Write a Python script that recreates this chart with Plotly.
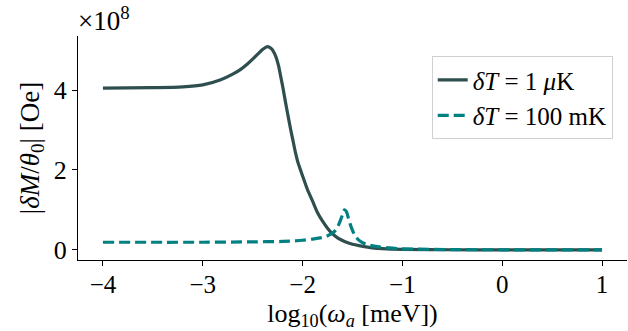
import plotly.graph_objects as go

# data (values in Oe)
x_1uK = [-4.0, -3.5, -3.2, -3.0, -2.82, -2.7, -2.62, -2.55, -2.49, -2.45, -2.4, -2.35,
         -2.31, -2.27, -2.24, -2.22, -2.2, -2.17, -2.14, -2.12, -2.1, -2.07, -2.05, -2.0,
         -1.95, -1.9, -1.85, -1.8, -1.72, -1.65, -1.58, -1.5, -1.42, -1.3, -1.2, -1.0,
         -0.5, 0.0, 0.5, 1.0]
y_1uK = [4.05, 4.06, 4.08, 4.13, 4.26, 4.4, 4.52, 4.66, 4.8, 4.9, 5.02, 5.09,
         5.03, 4.85, 4.6, 4.35, 4.1, 3.68, 3.28, 3.02, 2.78, 2.42, 2.22, 1.85,
         1.5, 1.22, 0.93, 0.72, 0.45, 0.3, 0.21, 0.14, 0.1, 0.05, 0.03, 0.012,
         0.002, 0.0005, 0.0001, 0.0]
y_1uK = [v * 1e8 for v in y_1uK]

x_100mK = [-4.0, -3.0, -2.5, -2.2, -2.0, -1.9, -1.8, -1.75, -1.7, -1.66, -1.63, -1.6,
           -1.58, -1.56, -1.54, -1.51, -1.48, -1.44, -1.4, -1.35, -1.3, -1.22, -1.1,
           -1.0, -0.5, 0.0, 1.0]
y_100mK = [0.19, 0.19, 0.2, 0.21, 0.24, 0.27, 0.31, 0.35, 0.42, 0.52, 0.68, 0.88,
           1.0, 0.95, 0.78, 0.55, 0.38, 0.25, 0.18, 0.13, 0.1, 0.07, 0.04,
           0.025, 0.005, 0.001, 0.0]
y_100mK = [v * 1e8 for v in y_100mK]

xticks = [-4, -3, -2, -1, 0, 1]
xticklabels = ["\u22124", "\u22123", "\u22122", "\u22121", "0", "1"]
yticks = [0, 2e8, 4e8]
yticklabels = ["0", "2", "4"]

FONT = "Liberation Serif"
FS = 26
C1 = "#2F4F4F"
C2 = "#008080"

fig = go.Figure()
fig.add_trace(go.Scatter(x=x_1uK, y=y_1uK, mode="lines",
                         line=dict(color=C1, width=3.2, shape="spline", smoothing=0.8),
                         name="<i>\u03b4T</i> = 1 <i>\u03bc</i>K"))
fig.add_trace(go.Scatter(x=x_100mK, y=y_100mK, mode="lines",
                         line=dict(color=C2, width=3.2, dash="11px,5px", shape="spline", smoothing=0.8),
                         name="<i>\u03b4T</i> = 100 mK"))

fig.update_layout(
    width=628, height=331,
    margin=dict(l=78, r=1, t=36, b=71),
    paper_bgcolor="white", plot_bgcolor="white",
    font=dict(family=FONT, size=FS, color="black"),
    showlegend=True,
    legend=dict(x=0.974, y=0.91, xanchor="right", yanchor="top",
                bgcolor="rgba(255,255,255,0.8)", bordercolor="#d0d0d0", borderwidth=1,
                font=dict(family=FONT, size=25), tracegroupgap=0),
    xaxis=dict(range=[-4.25, 1.25], tickvals=xticks, ticktext=xticklabels,
               showgrid=False, zeroline=False, showline=True, linecolor="black", linewidth=1.3,
               ticks="outside", ticklen=5, tickwidth=1.2, tickcolor="black",
               tickfont=dict(family=FONT, size=25),
               ticklabelstandoff=-3, automargin=False,
               title=dict(text="log<sub>10</sub>(<i>\u03c9<sub>a</sub></i> [meV])", standoff=6,
                          font=dict(family=FONT, size=FS))),
    yaxis=dict(range=[-0.255e8, 5.355e8], tickvals=yticks, ticktext=yticklabels,
               showgrid=False, zeroline=False, showline=True, linecolor="black", linewidth=1.3,
               ticks="outside", ticklen=5, tickwidth=1.2, tickcolor="black",
               tickfont=dict(family=FONT, size=26),
               title=dict(text="|<i>\u03b4M</i>/<i>\u03b8</i><sub>0</sub>| [Oe]", standoff=6,
                          font=dict(family=FONT, size=27))),
    annotations=[dict(text="\u00d710<sup>8</sup>", xref="paper", yref="paper", x=0.0, y=1.0,
                      xanchor="left", yanchor="bottom", showarrow=False, xshift=-2, yshift=-2,
                      font=dict(family=FONT, size=27))],
)

fig.write_html("out.html")
